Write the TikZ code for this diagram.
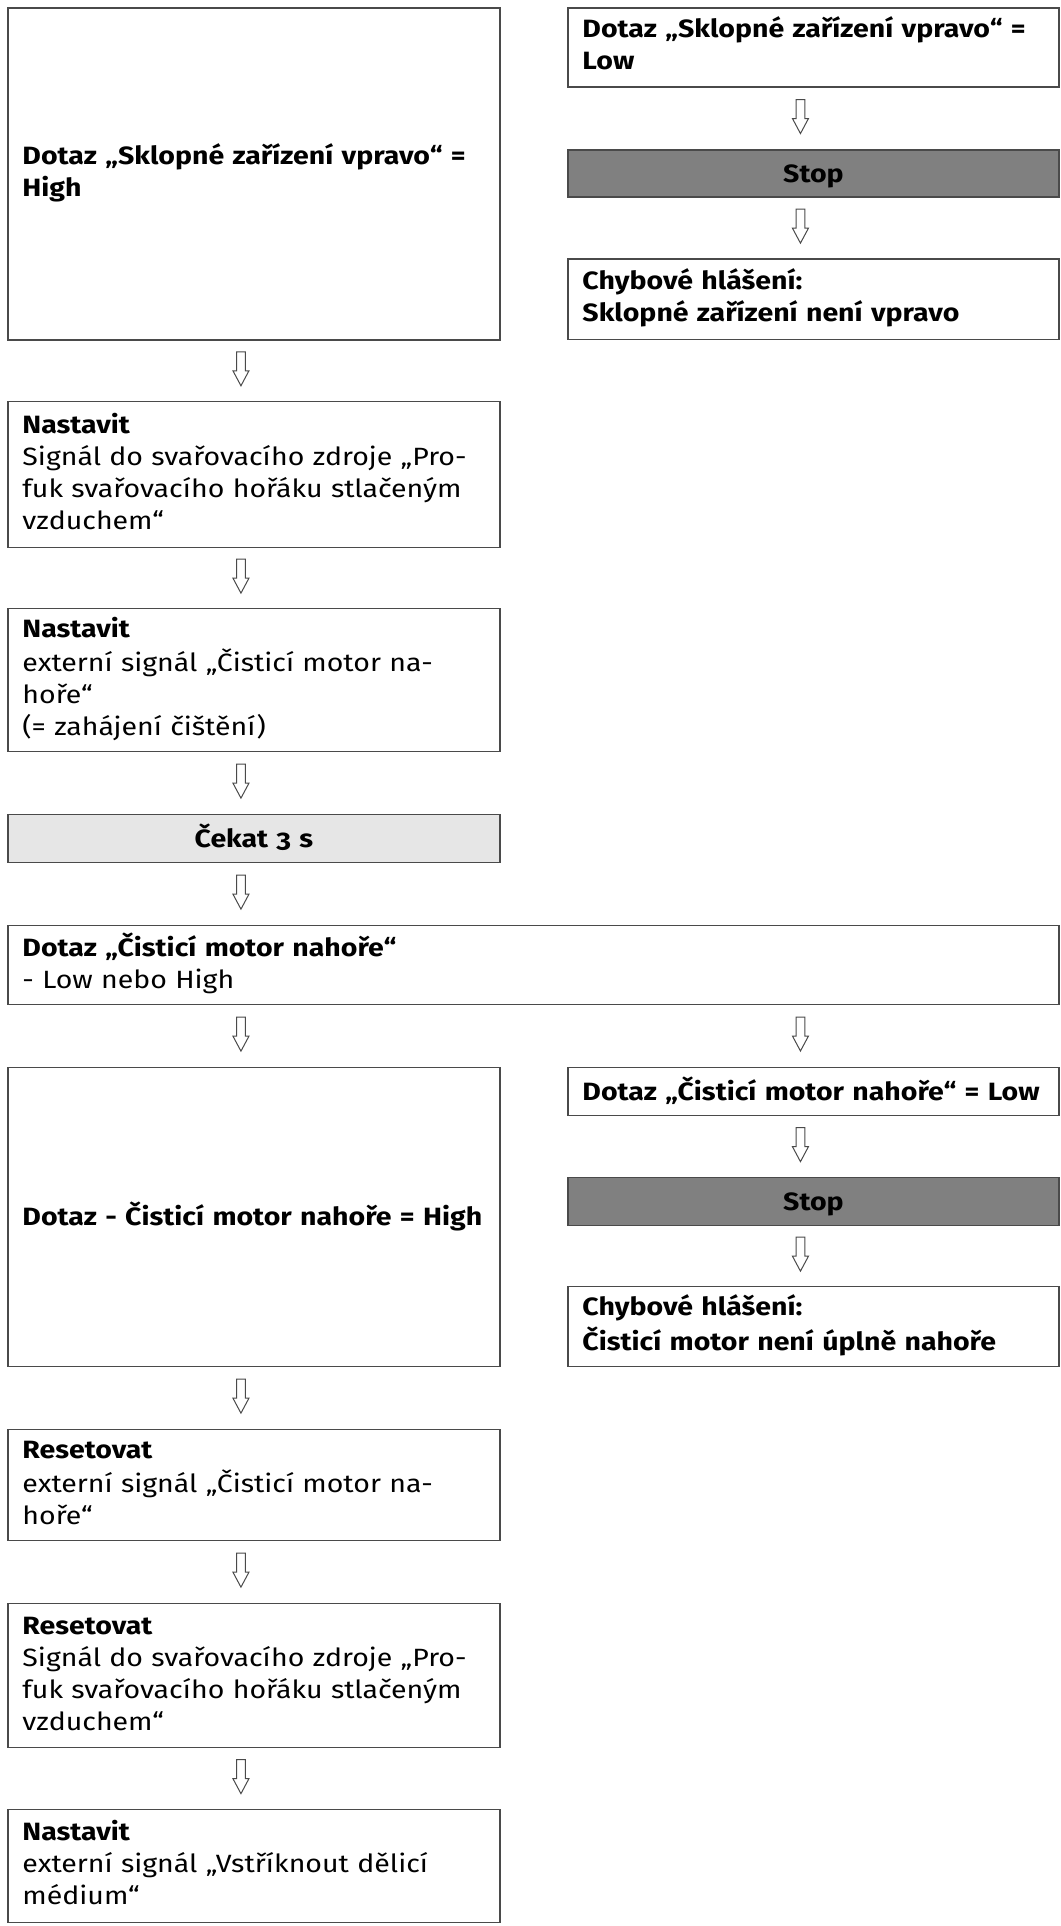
\documentclass[tikz,border=0pt]{standalone}
\usepackage{fontspec}
\setmainfont[FakeStretch=1.14]{Fira Sans}
\usetikzlibrary{calc}
\definecolor{edgecol}{HTML}{4A4A4A}
\definecolor{stopgray}{HTML}{808080}
\definecolor{waitgray}{HTML}{E6E6E6}
\tikzset{
  box/.style={draw=edgecol, line width=1.3pt, rectangle, anchor=north west,
    inner xsep=14.5pt, inner ysep=0pt, align=left,
    font=\fontsize{25}{32}\selectfont},
  lw/.style={minimum width=492pt, text width=463pt},
  rw/.style={minimum width=491pt, text width=462pt},
  fw/.style={minimum width=1051pt, text width=1022pt},
  oneline/.style={text height=17pt, text depth=0pt},
  stopbox/.style={box, rw, oneline, fill=stopgray, align=center, font=\fontsize{25}{32}\selectfont\bfseries},
  waitbox/.style={box, lw, oneline, fill=waitgray, align=center, font=\fontsize{25}{32}\selectfont\bfseries},
  arrowsty/.style={draw=edgecol, line width=1pt, fill=white, line join=miter}
}
% #1 source node, #2 target node, #3 node giving the column
\newcommand\flowarrow[3]{%
  \path let \p1=(#1.south), \p2=(#2.north), \p3=(#3.north) in
    coordinate (am) at (\x3-13pt,{0.5*\y1+0.5*\y2});
  \draw[arrowsty] ($(am)+(-4.3,19)$) -- ++(8.6,0) -- ++(0,-19) -- ++(3.7,0)
    -- ++(-8,-15) -- ++(-8,15) -- ++(3.7,0) -- cycle;
}
\begin{document}
\begin{tikzpicture}[x=1pt,y=1pt]
\path[use as bounding box, fill=white] (0,0) rectangle (1060,-1926);

% left column
\node[box,lw,minimum height=332pt] (b1) at (7.3,-7.3)
  {\bfseries\strut Dotaz „Sklopné zařízení vpravo“ =\\\strut High};
\node[box,lw,minimum height=146pt] (b2) at (7.3,-401)
  {\strut\textbf{Nastavit}\\\strut Signál do svařovacího zdroje „Pro-\\\strut fuk svařovacího hořáku stlačeným\\\strut vzduchem“};
\node[box,lw,minimum height=143pt] (b3) at (7.3,-608)
  {\strut\textbf{Nastavit}\\\strut externí signál „Čisticí motor na-\\\strut hoře“\\\strut (= zahájení čištění)};
\node[waitbox,minimum height=48pt] (b4) at (7.3,-814)
  {Čekat {\addfontfeature{Numbers=OldStyle}3} s};
\node[box,fw,minimum height=79pt] (b5) at (7.3,-925)
  {\strut\textbf{Dotaz „Čisticí motor nahoře“}\\\strut - Low nebo High};
\node[box,lw,oneline,minimum height=299pt] (b6) at (7.3,-1067)
  {\bfseries\mbox{Dotaz - Čisticí motor nahoře = High}};
\node[box,lw,minimum height=111pt] (b7) at (7.3,-1429)
  {\strut\textbf{Resetovat}\\\strut externí signál „Čisticí motor na-\\\strut hoře“};
\node[box,lw,minimum height=144pt] (b8) at (7.3,-1603)
  {\strut\textbf{Resetovat}\\\strut Signál do svařovacího zdroje „Pro-\\\strut fuk svařovacího hořáku stlačeným\\\strut vzduchem“};
\node[box,lw,minimum height=112.7pt] (b9) at (7.3,-1809)
  {\strut\textbf{Nastavit}\\\strut externí signál „Vstříknout dělicí\\\strut médium“};

% right column
\node[box,rw,minimum height=79.2pt] (r1) at (567.3,-7.3)
  {\bfseries\strut Dotaz „Sklopné zařízení vpravo“ =\\\strut Low};
\node[stopbox,minimum height=47.2pt] (r2) at (567.3,-149.3) {Stop};
\node[box,rw,minimum height=80pt] (r3) at (567.3,-258.5)
  {\bfseries\strut Chybové hlášení:\\\strut Sklopné zařízení není vpravo};
\node[box,rw,oneline,minimum height=48.3pt] (r4) at (567.3,-1066.7)
  {\bfseries\mbox{Dotaz „Čisticí motor nahoře“ = Low}};
\node[stopbox,minimum height=48pt] (r5) at (567.3,-1177) {Stop};
\node[box,rw,minimum height=80pt] (r6) at (567.3,-1286)
  {\bfseries\strut Chybové hlášení:\\\strut Čisticí motor není úplně nahoře};

% connectors
\flowarrow{b1}{b2}{b2}
\flowarrow{b2}{b3}{b3}
\flowarrow{b3}{b4}{b4}
\flowarrow{b4}{b5}{b4}
\flowarrow{b5}{b6}{b6}
\flowarrow{b5}{r4}{r4}
\flowarrow{b6}{b7}{b7}
\flowarrow{b7}{b8}{b8}
\flowarrow{b8}{b9}{b9}
\flowarrow{r1}{r2}{r2}
\flowarrow{r2}{r3}{r3}
\flowarrow{r4}{r5}{r5}
\flowarrow{r5}{r6}{r6}
\end{tikzpicture}
\end{document}
